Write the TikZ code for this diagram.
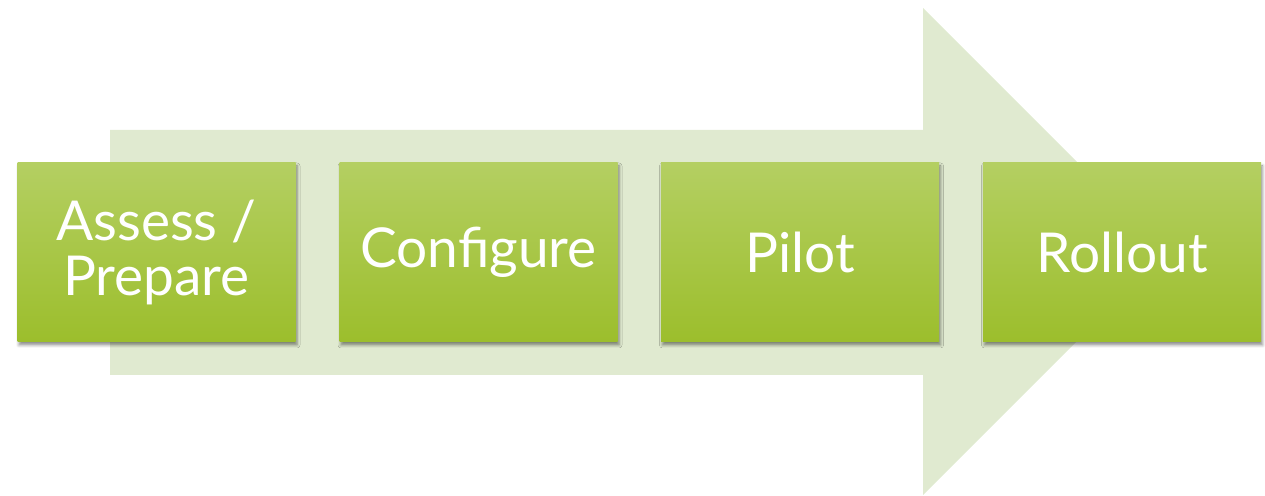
\documentclass[tikz,border=0pt]{standalone}
\usepackage{fontspec}
\setmainfont{Lato}
\usetikzlibrary{shadows.blur}
\definecolor{arrowfill}{HTML}{E0EAD0}
\definecolor{boxtop}{HTML}{B4CF62}
\definecolor{boxmid}{HTML}{AECD3C}
\definecolor{boxbot}{HTML}{9CBE2C}
\tikzset{
  phase/.style={
    minimum width=278pt, minimum height=179pt, inner sep=0pt,
    top color=boxtop, middle color=boxmid, bottom color=boxbot,
    text=white, align=center,
    font=\fontsize{55}{55}\selectfont,
    blur shadow={shadow xshift=1.5pt, shadow yshift=-3pt,
                 shadow blur radius=3pt, shadow opacity=45}
  }
}
\begin{document}
\begin{tikzpicture}[x=1pt,y=1pt]
  \useasboundingbox (0,0) rectangle (1265,495);
  % broad background arrow
  \fill[arrowfill] (110,365) -- (923,365) -- (923,487) -- (1166.5,243.5)
    -- (923,0) -- (923,120) -- (110,120) -- cycle;
  % the four phases
  \node[phase] (assess)    at (156.5,242.5) {Assess /\\Prepare};
  \node[phase] (configure) at (478.5,242.5) {Configure};
  \node[phase] (pilot)     at (800,242.5)   {Pilot};
  \node[phase] (rollout)   at (1122,242.5)  {Rollout};
\end{tikzpicture}
\end{document}
